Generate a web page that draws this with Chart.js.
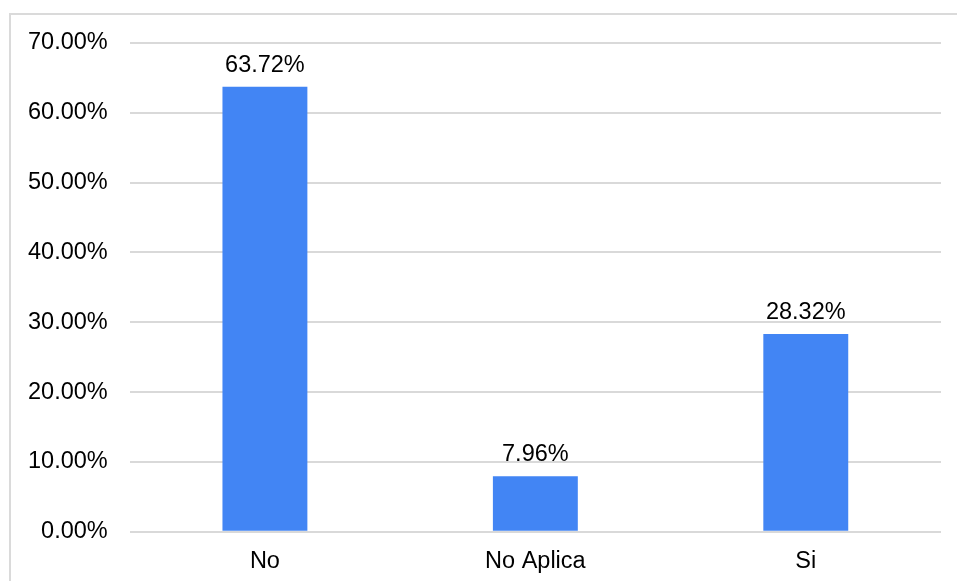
<!DOCTYPE html>
<html lang="es">
<head>
    <meta charset="UTF-8">
    <title>Respuestas</title>
    <script src="https://cdn.jsdelivr.net/npm/chart.js"></script>
    <style>
        html, body {
            margin: 0;
            padding: 0;
            background: white;
            overflow: hidden;
        }
        .frame {
            position: absolute;
            left: 9px;
            top: 13px;
            width: 1000px;
            height: 700px;
            border: 2px solid #dadada;
        }
        .chart-box {
            position: absolute;
            left: 0;
            top: 0;
            width: 957px;
            height: 595px;
        }
    </style>
</head>
<body>
    <div class="frame"></div>
    <div class="chart-box">
        <canvas id="respChart"></canvas>
    </div>

    <script>
        const categories = ['No', 'No Aplica', 'Si'];
        const percentages = [63.72, 7.96, 28.32];
        const yTickLabels = ['0.00%', '10.00%', '20.00%', '30.00%', '40.00%', '50.00%', '60.00%', '70.00%'];

        const FONT = 'Liberation Sans, Arial, sans-serif';

        // writes the percentage above each bar
        const barValues = {
            id: 'barValues',
            afterDatasetsDraw(chart) {
                const ctx = chart.ctx;
                const meta = chart.getDatasetMeta(0);
                ctx.save();
                ctx.font = '23.5px ' + FONT;
                ctx.fillStyle = '#000';
                ctx.textAlign = 'center';
                ctx.textBaseline = 'alphabetic';
                meta.data.forEach((bar, i) => {
                    ctx.fillText(percentages[i].toFixed(2) + '%', bar.x, bar.y - 15);
                });
                ctx.restore();
            }
        };

        new Chart(document.getElementById('respChart').getContext('2d'), {
            type: 'bar',
            data: {
                labels: categories,
                datasets: [{
                    data: percentages,
                    backgroundColor: '#4285F4',
                    borderWidth: 0,
                    barPercentage: 0.314,
                    categoryPercentage: 1
                }]
            },
            options: {
                responsive: true,
                maintainAspectRatio: false,
                animation: false,
                layout: {
                    padding: { left: 6, right: 16, top: 43, bottom: 3 }
                },
                plugins: {
                    legend: { display: false },
                    tooltip: { enabled: false }
                },
                scales: {
                    x: {
                        grid: { display: false, drawTicks: false },
                        border: { display: false },
                        ticks: {
                            color: '#000',
                            padding: 16,
                            font: { family: FONT, size: 23.5 }
                        }
                    },
                    y: {
                        min: 0,
                        max: 70,
                        grid: {
                            color: '#d9d9d9',
                            lineWidth: 2,
                            drawTicks: false
                        },
                        border: { display: false },
                        ticks: {
                            stepSize: 10,
                            color: '#000',
                            padding: 22,
                            font: { family: FONT, size: 23.5 },
                            callback: (value, index) => yTickLabels[index]
                        }
                    }
                }
            },
            plugins: [barValues]
        });
    </script>
</body>
</html>
